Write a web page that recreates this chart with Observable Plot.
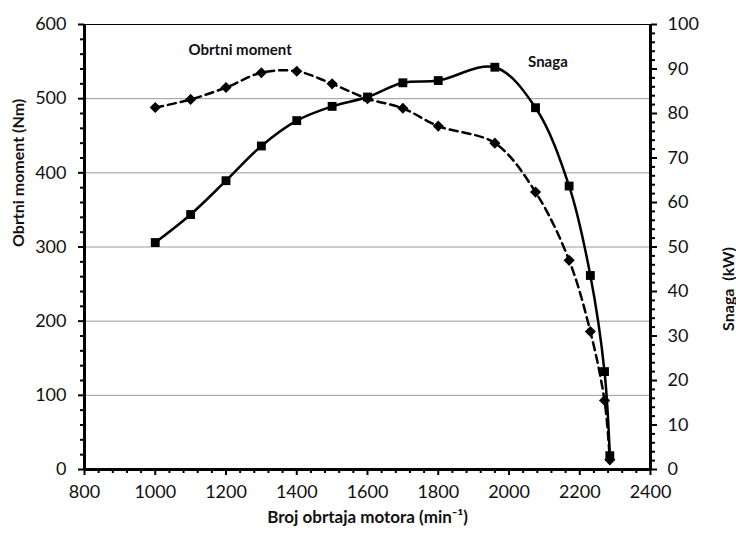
<!DOCTYPE html>
<html>
<head>
<meta charset="utf-8">
<script src="https://cdn.jsdelivr.net/npm/d3@7"></script>
<script src="https://cdn.jsdelivr.net/npm/@observablehq/plot@0.6"></script>
<style>
  body { margin: 0; background: #fff; }
  #chart svg { font-family: Lato, "Open Sans", sans-serif; }
</style>
</head>
<body>
<div id="chart"></div>
<script>
// engine speed (min^-1)
const rpm = [1000, 1100, 1200, 1300, 1400, 1500, 1600, 1700, 1800, 1960, 2075, 2170, 2230, 2270, 2285];
// torque (Nm)
const torque = [488, 499, 515, 535, 537, 520, 500, 487, 463, 440, 374, 282, 186, 93, 13];
// power (kW)
const power = [51.0, 57.3, 64.9, 72.7, 78.4, 81.6, 83.7, 86.9, 87.4, 90.4, 81.3, 63.7, 43.6, 22.0, 3.1];

const xTicks = [800, 1000, 1200, 1400, 1600, 1800, 2000, 2200, 2400];
const yTicksLeft = [0, 100, 200, 300, 400, 500, 600];
const yTicksRight = [0, 10, 20, 30, 40, 50, 60, 70, 80, 90, 100];
const gridValues = [100, 200, 300, 400, 500];

const labels = [
  {x: 1240, y: 565, text: "Obrtni moment"},
  {x: 2110, y: 549, text: "Snaga"}
];
const xTitle = "Broj obrtaja motora (min⁻¹)";
const yLeftTitle = "Obrtni moment (Nm)";
const yRightTitle = "Snaga  (kW)";

const k = 6; // 100 kW <-> 600 Nm
const torqueData = rpm.map((r, i) => ({rpm: r, v: torque[i]}));
const powerData = rpm.map((r, i) => ({rpm: r, v: power[i] * k}));

const xMinor = d3.range(800, 2401, 40).filter(d => !xTicks.includes(d));
const yMinorLeft = d3.range(0, 601, 20).filter(d => !yTicksLeft.includes(d));
const yMinorRight = d3.range(0, 101, 2).filter(d => !yTicksRight.includes(d)).map(d => d * k);

const chart = Plot.plot({
  width: 736,
  height: 534,
  marginLeft: 84,
  marginRight: 86,
  marginTop: 24,
  marginBottom: 65,
  style: {fontSize: "18px", color: "#111", fontFamily: "Lato, 'Open Sans', sans-serif"},
  x: {domain: [800, 2400]},
  y: {domain: [0, 600]},
  marks: [
    Plot.ruleY(gridValues, {stroke: "#999", strokeWidth: 1}),
    Plot.ruleY([600], {stroke: "#000", strokeWidth: 1}),
    // minor ticks
    Plot.axisX({ticks: xMinor, tickSize: 4, text: null, label: null, strokeWidth: 2, stroke: "#000"}),
    Plot.axisY({anchor: "left", ticks: yMinorLeft, tickSize: 4, text: null, label: null, strokeWidth: 2, stroke: "#000"}),
    Plot.axisY({anchor: "right", ticks: yMinorRight, tickSize: 4, text: null, label: null, strokeWidth: 2, stroke: "#000"}),
    // major axes
    Plot.axisX({ticks: xTicks, tickFormat: d3.format("d"), tickSize: 6, tickPadding: 10, strokeWidth: 2, stroke: "#000", fill: "#111", label: null}),
    Plot.axisY({anchor: "left", ticks: yTicksLeft, tickFormat: d3.format("d"), tickSize: 6, tickPadding: 12, strokeWidth: 2, stroke: "#000", fill: "#111", label: null}),
    Plot.axisY({anchor: "right", ticks: yTicksRight.map(d => d * k), tickFormat: d => String(Math.round(d / k)), tickSize: 6, tickPadding: 11,
      strokeWidth: 2, stroke: "#000", fill: "#111", label: null}),
    // axis titles
    Plot.text([xTitle], {frameAnchor: "bottom", dy: 53, text: d => d, fontWeight: "bold", fontSize: 17, fill: "#111"}),
    Plot.text([yLeftTitle], {frameAnchor: "left", dx: -66, rotate: -90, text: d => d, fontWeight: "bold", fontSize: 16, fill: "#111"}),
    Plot.text([yRightTitle], {frameAnchor: "right", dx: 78, rotate: -90, text: d => d, fontWeight: "bold", fontSize: 16, fill: "#111"}),
    // frame
    Plot.ruleX([800], {stroke: "#000", strokeWidth: 3}),
    Plot.ruleX([2400], {stroke: "#000", strokeWidth: 3}),
    Plot.ruleY([0], {stroke: "#000", strokeWidth: 3}),
    // series
    Plot.line(torqueData, {x: "rpm", y: "v", curve: "catmull-rom", stroke: "#000", strokeWidth: 2.5, strokeDasharray: "8,5"}),
    Plot.dot(torqueData, {x: "rpm", y: "v", symbol: "diamond2", r: 5, fill: "#000", stroke: "none"}),
    Plot.line(powerData, {x: "rpm", y: "v", curve: "catmull-rom", stroke: "#000", strokeWidth: 2.5}),
    Plot.dot(powerData, {x: "rpm", y: "v", symbol: "square", r: 5, fill: "#000", stroke: "none"}),
    Plot.text(labels, {x: "x", y: "y", text: "text", fontWeight: "bold", fontSize: 15, fill: "#111"})
  ]
});

document.getElementById("chart").appendChild(chart);
</script>
</body>
</html>
